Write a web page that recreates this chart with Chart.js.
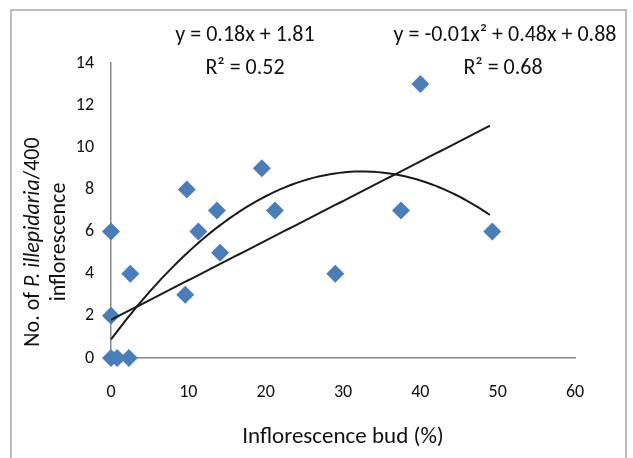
<!DOCTYPE html>
<html>
<head>
<meta charset="utf-8">
<script src="https://cdn.jsdelivr.net/npm/chart.js@4"></script>
<style>
  html, body { margin: 0; padding: 0; background: #fff; }
  #wrap { width: 633px; height: 458px; }
</style>
</head>
<body>
<div id="wrap"><canvas id="chart" width="633" height="458"></canvas></div>
<script>
// scatter values
const budPercent = [0, 0.8, 2.3, 0, 0, 2.5, 9.6, 9.8, 11.3, 13.7, 14.1, 19.5, 21.2, 29, 37.5, 40, 49.3];
const illepidariaCount = [0, 0, 0, 2, 6, 4, 3, 8, 6, 7, 5, 9, 7, 4, 7, 13, 6];

// trendlines as drawn: [intercept, x, x^2]
const linearFit = [1.81, 0.188];
const quadFit = [0.88, 0.491, -0.00756];
const fitRange = [0, 49.3];

const linearLabel = ["y = 0.18x + 1.81", "R² = 0.52"];
const quadLabel = ["y = -0.01x² + 0.48x + 0.88", "R² = 0.68"];

const xTicks = [0, 10, 20, 30, 40, 50, 60];
const yTicks = [0, 2, 4, 6, 8, 10, 12, 14];

const FONT = "Carlito, Lato, 'Open Sans', sans-serif";
const TEXT = "#111111";
const AXIS = "#888888";

function fitPoints(coef) {
  const pts = [];
  for (let x = fitRange[0]; x <= fitRange[1] + 1e-9; x += 0.5) {
    let y = 0;
    coef.forEach((c, i) => { y += c * Math.pow(x, i); });
    pts.push({ x: x, y: y });
  }
  return pts;
}

const scatterData = budPercent.map((x, i) => ({ x: x, y: illepidariaCount[i] }));

const decorPlugin = {
  id: "decor",
  beforeDraw(chart) {
    const ctx = chart.ctx;
    ctx.save();
    ctx.strokeStyle = "#a6a6a6";
    ctx.lineWidth = 1.5;
    ctx.strokeRect(11, 10, 615, 460);
    ctx.restore();
  },
  afterDraw(chart) {
    const ctx = chart.ctx;
    ctx.save();
    ctx.fillStyle = TEXT;
    ctx.textAlign = "center";
    ctx.textBaseline = "middle";
    ctx.font = "22px " + FONT;
    ctx.fillText(linearLabel[0], 245, 35);
    ctx.fillText(linearLabel[1], 245, 68);
    ctx.fillText(quadLabel[0], 505, 35);
    ctx.fillText(quadLabel[1], 503, 68);

    // y axis title, two lines, with the species name in italic
    ctx.translate(33, 242);
    ctx.rotate(-Math.PI / 2);
    const parts = [
      ["No. of ", "22px " + FONT],
      ["P. illepidaria", "italic 22px " + FONT],
      ["/400", "22px " + FONT],
    ];
    let total = 0;
    parts.forEach(p => { ctx.font = p[1]; total += ctx.measureText(p[0]).width; });
    let x = -total / 2;
    ctx.textAlign = "left";
    parts.forEach(p => {
      ctx.font = p[1];
      ctx.fillText(p[0], x, 0);
      x += ctx.measureText(p[0]).width;
    });
    ctx.textAlign = "center";
    ctx.font = "22px " + FONT;
    ctx.fillText("inflorescence", 0, 26);
    ctx.restore();
  },
};

new Chart(document.getElementById("chart"), {
  type: "scatter",
  data: {
    datasets: [
      {
        label: "Observed",
        data: scatterData,
        pointStyle: "rectRot",
        pointRadius: 9,
        pointHoverRadius: 9,
        backgroundColor: "#4a7ebb",
        borderColor: "#4a7ebb",
        borderWidth: 0,
        clip: false,
        order: 2,
      },
      {
        label: "Linear",
        type: "line",
        data: fitPoints(linearFit),
        borderColor: "#1a1a1a",
        borderWidth: 2,
        pointRadius: 0,
        tension: 0,
        fill: false,
        order: 1,
      },
      {
        label: "Polynomial",
        type: "line",
        data: fitPoints(quadFit),
        borderColor: "#1a1a1a",
        borderWidth: 2,
        pointRadius: 0,
        tension: 0,
        fill: false,
        order: 1,
      },
    ],
  },
  options: {
    responsive: false,
    animation: false,
    layout: { padding: { top: 63, right: 58, left: 0, bottom: 0 } },
    plugins: {
      legend: { display: false },
      tooltip: { enabled: false },
    },
    scales: {
      x: {
        type: "linear",
        min: 0,
        max: 60,
        afterFit: (s) => { s.height = 100; },
        afterBuildTicks: (s) => { s.ticks = xTicks.map(v => ({ value: v })); },
        grid: { display: false },
        border: { display: true, color: AXIS, width: 1.5 },
        ticks: { color: TEXT, font: { family: FONT, size: 18 }, padding: 16 },
        title: {
          display: true,
          text: "Inflorescence bud (%)",
          color: TEXT,
          font: { family: FONT, size: 23 },
          padding: { top: 0, bottom: 7 },
        },
      },
      y: {
        type: "linear",
        min: 0,
        max: 14,
        afterFit: (s) => { s.width = 111; },
        afterBuildTicks: (s) => { s.ticks = yTicks.map(v => ({ value: v })); },
        grid: { display: false },
        border: { display: true, color: AXIS, width: 1.5 },
        ticks: { color: TEXT, font: { family: FONT, size: 18 }, padding: 9 },
      },
    },
  },
  plugins: [decorPlugin],
});
</script>
</body>
</html>
